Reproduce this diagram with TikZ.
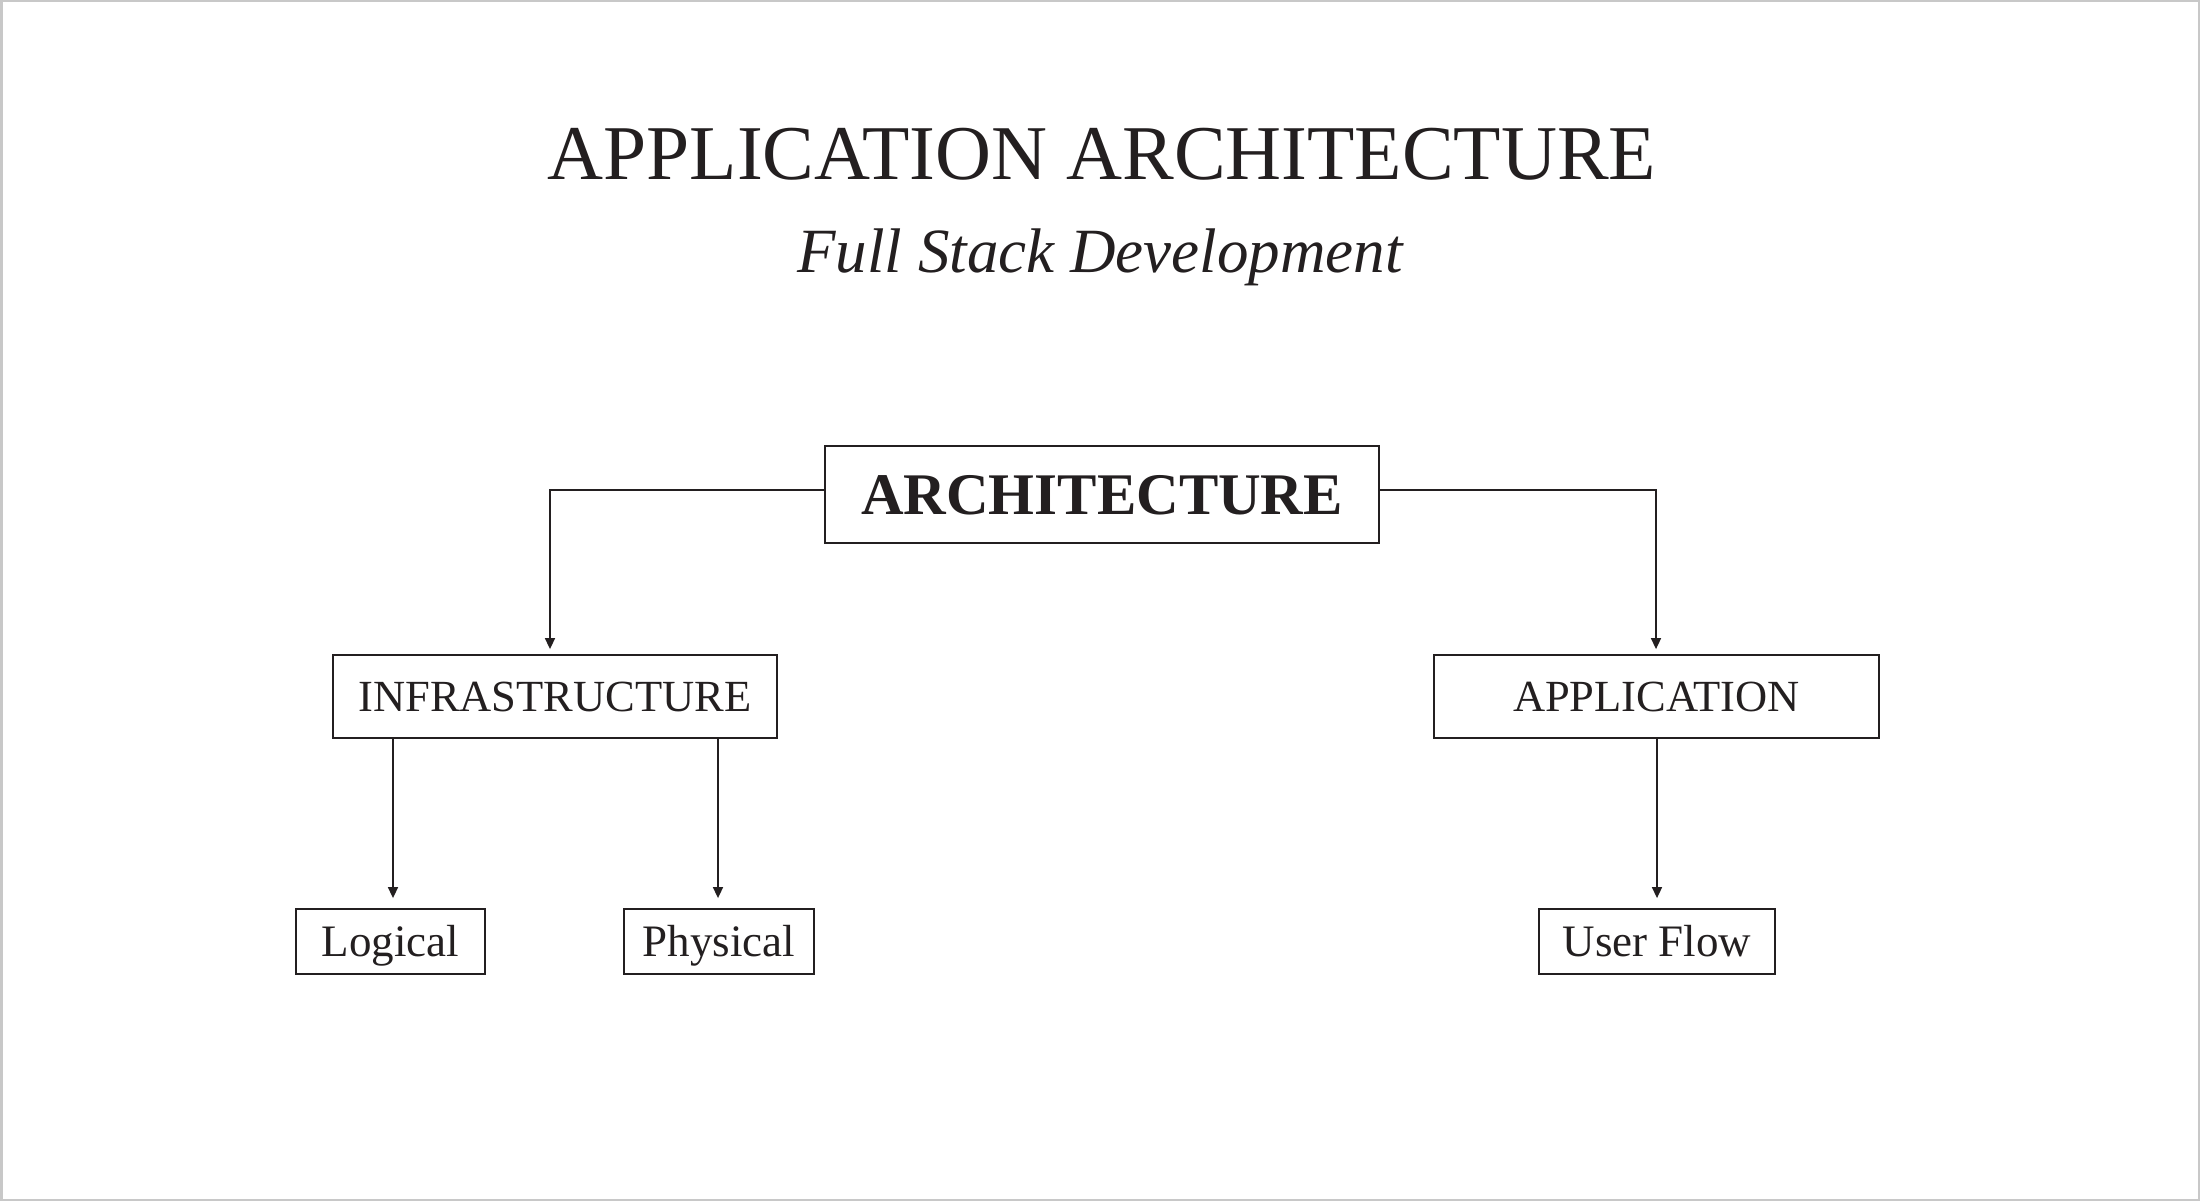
\documentclass[tikz,border=0pt]{standalone}
\usepackage{fontspec}
\setmainfont{Liberation Serif}
\usetikzlibrary{arrows.meta}
\definecolor{ink}{HTML}{231F20}
\definecolor{frame}{HTML}{C8C8C8}
\begin{document}
\begin{tikzpicture}[x=1pt,y=-1pt,
  box/.style={draw=ink,line width=1.8pt,inner sep=0pt,text=ink,
    text depth=0pt,align=center},
  bigtext/.style={font=\fontsize{59}{62}\selectfont\bfseries,text height=39pt},
  midtext/.style={font=\fontsize{44.5}{48}\selectfont,text height=29.4pt},
  smalltext/.style={font=\fontsize{45}{48}\selectfont,text height=29.7pt},
  link/.style={draw=ink,line width=1.6pt,-{Triangle[length=11pt,width=10pt]}},
]
\useasboundingbox (0,0) rectangle (2200,1201);
\draw[frame,line width=2.5pt] (1.25,1.25) rectangle (2198.75,1199.75);

\node[anchor=base,text=ink,inner sep=0pt,font=\fontsize{77.5}{80}\selectfont] (title) at (1102,180) {APPLICATION ARCHITECTURE};
\node[anchor=base,text=ink,inner sep=0pt,font=\fontsize{63}{66}\selectfont\itshape] (sub) at (1100,272) {Full Stack Development};

\node[box,bigtext,minimum width=554pt,minimum height=97pt] (arch) at (1102,494.5) {ARCHITECTURE};
\node[box,midtext,minimum width=444pt,minimum height=83pt] (infra) at (555,696.5) {INFRASTRUCTURE};
\node[box,midtext,minimum width=445pt,minimum height=83pt] (app) at (1656.5,696.5) {APPLICATION};
\node[box,smalltext,minimum width=189pt,minimum height=65pt] (logical) at (390.5,941.5) {Logical};
\node[box,smalltext,minimum width=190pt,minimum height=65pt] (physical) at (719,941.5) {Physical};
\node[box,smalltext,minimum width=236pt,minimum height=65pt] (user) at (1657,941.5) {User Flow};

\coordinate (lt) at (550,490);
\coordinate (rt) at (1656,490);
\draw[link,shorten >=5pt] (arch.west |- lt) -- (lt) -- (lt |- infra.north);
\draw[link,shorten >=5pt] (arch.east |- rt) -- (rt) -- (rt |- app.north);
\draw[link,shorten >=10pt] (infra.south -| 393,0) -- (logical.north -| 393,0);
\draw[link,shorten >=10pt] (infra.south -| 718,0) -- (physical.north -| 718,0);
\draw[link,shorten >=10pt] (app.south -| 1657,0) -- (user.north -| 1657,0);
\end{tikzpicture}
\end{document}
